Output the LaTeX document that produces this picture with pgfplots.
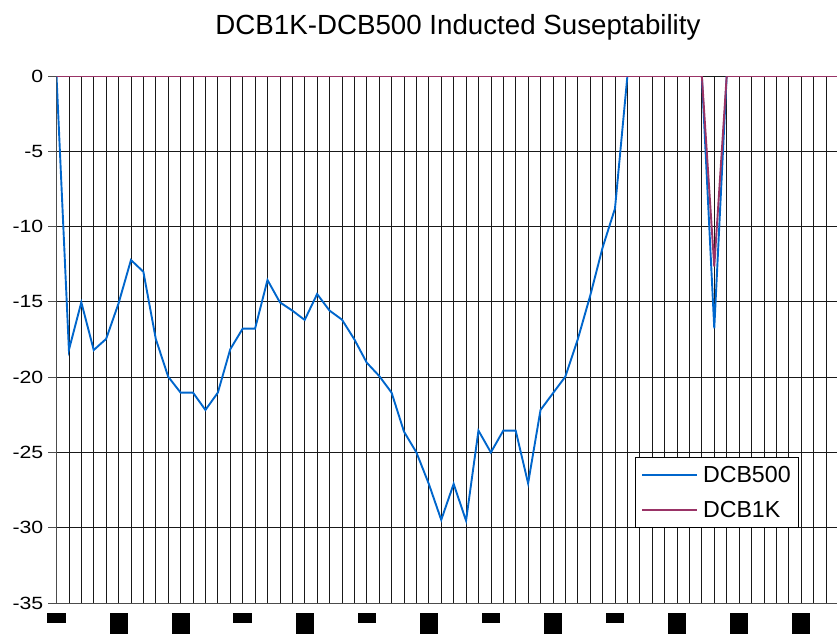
\documentclass[border=0pt]{standalone}
\usepackage{fontspec}
\setmainfont{Liberation Sans}
\newfontfamily\tickfont[FakeStretch=1.2]{Liberation Sans}
\usepackage{pgfplots}
\pgfplotsset{compat=1.18}
\definecolor{blueline}{RGB}{0,102,204}
\definecolor{redline}{RGB}{153,51,102}
\newcommand\smb{\rule{18.5pt}{9.5pt}}
\newcommand\bgb{\rule{18pt}{21pt}}
\begin{document}
\begin{tikzpicture}[x=1pt,y=1pt]
\useasboundingbox (0,0) rectangle (837,633);
\node[anchor=base, font=\fontsize{27.7}{32}\selectfont] at (458,598) {DCB1K-DCB500 Inducted Suseptability};
\begin{axis}[
  at={(56.5pt,30pt)}, anchor=south west,
  scale only axis, width=780.5pt, height=527pt,
  xmin=0, xmax=62.89, ymin=-35, ymax=0,
  clip=true,
  axis x line*=bottom, axis y line*=left,
  axis line style={-, black!70, line width=0.8pt},
  xtick={0,5,...,60},
  minor xtick={0,1,...,63},
  xticklabels={\smb,\bgb,\bgb,\smb,\bgb,\smb,\bgb,\smb,\bgb,\smb,\bgb,\bgb,\bgb},
  xticklabel style={inner sep=0pt, anchor=north, yshift=-2pt},
  x tick style={draw=none},
  minor tick length=0pt,
  ytick={-35,-30,...,0},
  yticklabels={-35,-30,-25,-20,-15,-10,-5,0},
  yticklabel style={inner sep=0pt, anchor=east, xshift=-5pt, font=\tickfont\fontsize{17.7}{20}\selectfont},
  y tick style={black!70, line width=0.8pt},
  tick align=outside, major tick length=8pt,
  grid=both,
  major grid style={black!90, line width=0.75pt},
  minor grid style={black!90, line width=0.75pt},
  legend style={at={(0.741,0.277)}, anchor=north west, draw=black, line width=0.8pt,
    font=\fontsize{23.2}{26}\selectfont, inner xsep=6pt, inner ysep=7pt,
    row sep=13pt, cells={anchor=west}},
  legend image code/.code={\draw[#1, line width=1.6pt] (0pt,0pt) -- (55pt,0pt); \path (58pt,0pt);},
]
\addplot[blueline, line width=1.9pt] coordinates {
(0,0) (1,-18.19) (2,-15.03) (3,-18.2) (4,-17.46) (5,-15.1) (6,-12.22) (7,-13.0)
(8,-17.46) (9,-19.97) (10,-21.03) (11,-21.03) (12,-22.18) (13,-21.03) (14,-18.15)
(15,-16.78) (16,-16.78) (17,-13.55) (18,-15.03) (19,-15.58) (20,-16.2) (21,-14.48)
(22,-15.58) (23,-16.18) (24,-17.49) (25,-19.04) (26,-19.92) (27,-21.03) (28,-23.62)
(29,-25.0) (30,-27.09) (31,-29.48) (32,-27.09) (33,-29.53) (34,-23.55) (35,-25.0)
(36,-23.55) (37,-23.55) (38,-27.05) (39,-22.18) (40,-21.07) (41,-19.97) (42,-17.49)
(43,-14.6) (44,-11.4) (45,-8.8) (46,0) (47,0) (48,0) (49,0) (50,0) (51,0) (52,0)
(53,-16.75) (54,0) (55,0) (56,0) (57,0) (58,0) (59,0) (60,0) (61,0) (62,0) (63,0)
};
\addlegendentry{DCB500}
\addplot[redline, line width=1.9pt] coordinates {
(0,0) (1,0) (2,0) (3,0) (4,0) (5,0) (6,0) (7,0) (8,0) (9,0) (10,0) (11,0) (12,0)
(13,0) (14,0) (15,0) (16,0) (17,0) (18,0) (19,0) (20,0) (21,0) (22,0) (23,0) (24,0)
(25,0) (26,0) (27,0) (28,0) (29,0) (30,0) (31,0) (32,0) (33,0) (34,0) (35,0) (36,0)
(37,0) (38,0) (39,0) (40,0) (41,0) (42,0) (43,0) (44,0) (45,0) (46,0) (47,0) (48,0)
(49,0) (50,0) (51,0) (52,0) (53,-12.66) (54,0) (55,0) (56,0) (57,0) (58,0) (59,0)
(60,0) (61,0) (62,0) (63,0)
};
\addlegendentry{DCB1K}
\end{axis}
\end{tikzpicture}
\end{document}
